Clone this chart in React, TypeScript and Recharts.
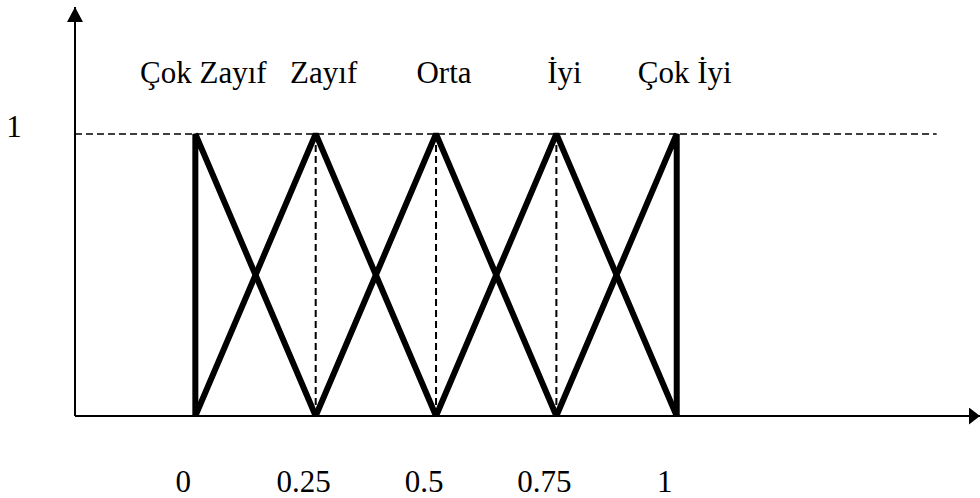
import React from "react";
import { LineChart, Line, XAxis, YAxis, ReferenceLine, LabelList } from "recharts";

// membership sets: name and the triangle corners
const setNames = ["Çok Zayıf", "Zayıf", "Orta", "İyi", "Çok İyi"];

const cokZayif = [
  { x: 0, y: 0 },
  { x: 0, y: 1 },
  { x: 0.25, y: 0 },
];
const zayif = [
  { x: 0, y: 0 },
  { x: 0.25, y: 1 },
  { x: 0.5, y: 0 },
];
const orta = [
  { x: 0.25, y: 0 },
  { x: 0.5, y: 1 },
  { x: 0.75, y: 0 },
];
const iyi = [
  { x: 0.5, y: 0 },
  { x: 0.75, y: 1 },
  { x: 1, y: 0 },
];
const cokIyi = [
  { x: 0.75, y: 0 },
  { x: 1, y: 1 },
  { x: 1, y: 0 },
];

const xTicks = [0, 0.25, 0.5, 0.75, 1];
const yTicks = [1];
const guideX = [0.25, 0.5, 0.75];

const X_DOMAIN: [number, number] = [-0.25, 1.63];
const Y_DOMAIN: [number, number] = [0, 1.45];
const TOP_LINE_END = 1.54;

const FONT = '"Liberation Serif", "Times New Roman", serif';
const FONT_SIZE = 31;

if (typeof document !== "undefined") document.body.style.margin = "0";

const series = [cokZayif, zayif, orta, iyi, cokIyi];

function BottomTick(props: any) {
  const { x, y, payload } = props;
  return (
    <text x={x - 12} y={y + 76} textAnchor="middle" fontFamily={FONT} fontSize={FONT_SIZE} fill="#000">
      {payload.value}
    </text>
  );
}

function LeftTick(props: any) {
  const { y, payload } = props;
  return (
    <text x={14} y={y + 3} textAnchor="middle" fontFamily={FONT} fontSize={FONT_SIZE} fill="#000">
      {payload.value}
    </text>
  );
}

// set name written above the peak (the one point at full membership)
function peakLabel(name: string) {
  return (props: any) => {
    const { x, y, value } = props;
    if (value !== 1) return null;
    return (
      <text x={x + 8} y={y - 51} textAnchor="middle" fontFamily={FONT} fontSize={FONT_SIZE} fill="#000">
        {name}
      </text>
    );
  };
}

export default function App() {
  return (
    <div style={{ width: 980, height: 498, background: "#fff" }}>
      <LineChart width={980} height={498} margin={{ top: 7, right: 0, bottom: 0, left: 0 }}>
        <defs>
          <marker id="arrowX" markerUnits="userSpaceOnUse" markerWidth={12} markerHeight={18} refX={11} refY={8.5} orient="auto">
            <path d="M0,0 L11,8.5 L0,17 Z" fill="#000" />
          </marker>
          <marker id="arrowY" markerUnits="userSpaceOnUse" markerWidth={16} markerHeight={17} refX={15} refY={8} orient="auto-start-reverse">
            <path d="M0,0 L15,8 L0,16 Z" fill="#000" />
          </marker>
        </defs>
        <XAxis
          dataKey="x"
          type="number"
          domain={X_DOMAIN}
          allowDataOverflow
          ticks={xTicks}
          height={82}
          tickSize={0}
          tickMargin={0}
          tickLine={false}
          axisLine={{ stroke: "#000", strokeWidth: 2, markerEnd: "url(#arrowX)" }}
          tick={<BottomTick />}
          interval={0}
        />
        <YAxis
          type="number"
          domain={Y_DOMAIN}
          allowDataOverflow
          ticks={yTicks}
          width={75}
          tickSize={0}
          tickMargin={0}
          tickLine={false}
          axisLine={{ stroke: "#000", strokeWidth: 2, markerStart: "url(#arrowY)" }}
          tick={<LeftTick />}
        />
        <ReferenceLine
          segment={[
            { x: X_DOMAIN[0], y: 1 },
            { x: TOP_LINE_END, y: 1 },
          ]}
          stroke="#000"
          strokeWidth={1.6}
          strokeDasharray="7 4"
        />
        {guideX.map((gx) => (
          <ReferenceLine
            key={gx}
            segment={[
              { x: gx, y: 0 },
              { x: gx, y: 1 },
            ]}
            stroke="#000"
            strokeWidth={2}
            strokeDasharray="7 4"
          />
        ))}
        {series.map((pts, i) => (
          <Line
            key={setNames[i]}
            data={pts}
            dataKey="y"
            type="linear"
            stroke="#000"
            strokeWidth={6}
            strokeLinejoin="bevel"
            dot={false}
            activeDot={false}
            isAnimationActive={false}
          >
            <LabelList dataKey="y" content={peakLabel(setNames[i])} />
          </Line>
        ))}
      </LineChart>
    </div>
  );
}
